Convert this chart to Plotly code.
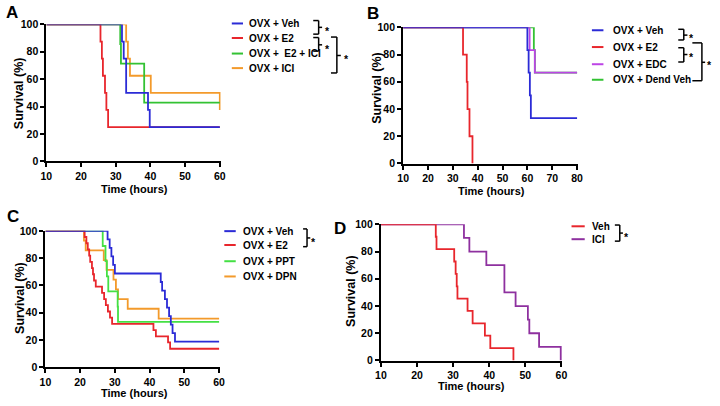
import plotly.graph_objects as go

W, H = 720, 406

# ---------------- data (event times in hours, survival in %) ----------------
# Panel A
A_veh_t = [31.8, 32.3, 33.0, 39.3, 39.8]
A_veh_s = [87.5, 75.0, 50.0, 37.5, 25.0]
A_e2_t = [25.6, 26.0, 26.3, 26.9, 27.3, 27.8]
A_e2_s = [87.5, 75.0, 62.5, 50.0, 37.5, 25.0]
A_e2ici_t = [31.3, 31.5, 38.2]
A_e2ici_s = [85.7, 71.4, 42.9]
A_ici_t = [33.0, 33.5, 34.1, 40.1, 60.0]
A_ici_s = [87.5, 75.0, 62.5, 50.0, 37.5]

# Panel B
B_veh_t = [60.0, 60.5, 61.0, 61.4]
B_veh_s = [83.3, 66.7, 50.0, 33.3]
B_e2_t = [34.1, 35.6, 35.9, 36.7, 37.9]
B_e2_s = [80.0, 60.0, 40.0, 20.0, 0.0]
B_edc_t = [60.9, 63.0]
B_edc_s = [83.3, 66.7]
B_dend_t = [62.6, 63.0]
B_dend_s = [83.3, 66.7]

# Panel C
C_veh_t = [27.9, 28.5, 29.0, 29.5, 30.0, 43.2, 43.6, 44.4, 45.0, 45.6, 46.1, 46.6, 47.3]
C_veh_s = [93.75, 87.5, 81.25, 75.0, 68.75, 62.5, 56.25, 50.0, 43.75, 37.5, 31.25, 25.0, 18.75]
C_e2_t = [21.3, 21.8, 22.2, 22.6, 22.9, 23.4, 23.7, 24.0, 24.5, 26.3, 26.9, 27.4, 28.0,
          28.6, 29.2, 41.1, 41.8, 45.3, 45.9]
C_e2_s = [95.5, 90.9, 86.4, 81.8, 77.3, 72.7, 68.2, 63.6, 59.1, 54.5, 50.0, 45.5, 40.9,
          36.4, 31.8, 27.3, 22.7, 18.2, 13.6]
C_ppt_t = [26.5, 27.3, 27.7, 28.1, 30.8, 30.9]
C_ppt_s = [88.9, 77.8, 66.7, 55.6, 44.4, 33.3]
C_dpn_t = [21.1, 21.6, 26.8, 27.6, 29.6, 30.3, 30.9, 33.7, 42.6]
C_dpn_s = [92.9, 85.7, 78.6, 71.4, 64.3, 57.1, 50.0, 42.9, 35.7]

# Panel D
D_veh_t = [25.2, 25.4, 30.3, 30.7, 31.0, 31.2, 34.0, 35.4, 38.8, 40.3, 46.7]
D_veh_s = [90.9, 81.8, 72.7, 63.6, 54.5, 45.5, 36.4, 27.3, 18.2, 9.1, 0.0]
D_ici_t = [33.0, 34.5, 39.2, 44.2, 47.3, 50.7, 51.1, 53.8, 59.8]
D_ici_s = [90.0, 80.0, 70.0, 50.0, 40.0, 30.0, 20.0, 10.0, 0.0]

y_ticks = [0, 20, 40, 60, 80, 100]
x_ticks_60 = [10, 20, 30, 40, 50, 60]
x_ticks_80 = [10, 20, 30, 40, 50, 60, 70, 80]

BLUE = "#2b2bd6"
RED = "#e8262c"
GREEN = "#33c233"
GREEN_C = "#44e044"
ORANGE = "#f39a2b"
PURPLE_B = "#bd45e6"
PURPLE_D = "#8e309f"

FONT = "Liberation Sans"


def px(x):
    return x / W


def py(y):
    return 1 - y / H


fig = go.Figure()


def km(t, s, end, color, xa, ya, name):
    xs = [10] + list(t)
    ys = [100] + list(s)
    if end is not None and xs[-1] < end:
        xs.append(end)
        ys.append(ys[-1])
    fig.add_trace(go.Scatter(x=xs, y=ys, mode="lines", line=dict(color=color, width=1.8, shape="hv"),
                             xaxis=xa, yaxis=ya, name=name, showlegend=False, hoverinfo="skip"))


# Panel A (drawn so blue on top)
km(A_ici_t, A_ici_s, 60, ORANGE, "x", "y", "OVX + ICI")
km(A_e2ici_t, A_e2ici_s, 60, GREEN, "x", "y", "OVX + E2 + ICI")
km(A_e2_t, A_e2_s, 60, RED, "x", "y", "OVX + E2")
km(A_veh_t, A_veh_s, 60, BLUE, "x", "y", "OVX + Veh")
# Panel B
km(B_dend_t, B_dend_s, 80, GREEN, "x2", "y2", "OVX + Dend Veh")
km(B_edc_t, B_edc_s, 80, PURPLE_B, "x2", "y2", "OVX + EDC")
km(B_e2_t, B_e2_s, None, RED, "x2", "y2", "OVX + E2")
km(B_veh_t, B_veh_s, 80, BLUE, "x2", "y2", "OVX + Veh")
# Panel C
km(C_dpn_t, C_dpn_s, 60, ORANGE, "x3", "y3", "OVX + DPN")
km(C_ppt_t, C_ppt_s, 60, GREEN_C, "x3", "y3", "OVX + PPT")
km(C_e2_t, C_e2_s, 60, RED, "x3", "y3", "OVX + E2")
km(C_veh_t, C_veh_s, 60, BLUE, "x3", "y3", "OVX + Veh")
# Panel D
km(D_ici_t, D_ici_s, None, PURPLE_D, "x4", "y4", "ICI")
km(D_veh_t, D_veh_s, None, RED, "x4", "y4", "Veh")

tickfont = dict(family=FONT, size=10.5, color="black", weight="bold")


def xax(domain, anchor, rng, ticks):
    return dict(domain=domain, anchor=anchor, range=rng, tickvals=ticks, showline=True,
                linecolor="black", linewidth=2, ticks="outside", ticklen=4, tickwidth=1.5,
                tickcolor="black", showgrid=False, zeroline=False, tickfont=tickfont, fixedrange=True)


def yax(domain, anchor):
    return dict(domain=domain, anchor=anchor, range=[0, 100], tickvals=y_ticks, showline=True,
                linecolor="black", linewidth=2, ticks="outside", ticklen=4, tickwidth=1.5,
                tickcolor="black", showgrid=False, zeroline=False, tickfont=tickfont, fixedrange=True)


fig.update_layout(
    width=W, height=H, autosize=False, margin=dict(l=0, r=0, t=0, b=0),
    paper_bgcolor="white", plot_bgcolor="white",
    xaxis=xax([px(41), px(218)], "y", [10, 60.25], x_ticks_60),
    yaxis=yax([py(160), py(19)], "x"),
    xaxis2=xax([px(403.3), px(580.7)], "y2", [10, 80.3], x_ticks_80),
    yaxis2=yax([py(162.3), py(22)], "x2"),
    xaxis3=xax([px(40), px(217.3)], "y3", [10, 60.25], x_ticks_60),
    yaxis3=yax([py(372.3), py(231.7)], "x3"),
    xaxis4=xax([px(380.7), px(565)], "y4", [10, 60.25], x_ticks_60),
    yaxis4=yax([py(365.3), py(225)], "x4"),
)

shapes = []
annotations = []


def text(x, y, s, size=10.5, angle=0, xanchor="center"):
    annotations.append(dict(x=px(x), y=py(y), xref="paper", yref="paper", text=s, showarrow=False,
                            xanchor=xanchor, yanchor="middle", textangle=angle, borderpad=0,
                            font=dict(family=FONT, size=size, color="black", weight="bold")))


def seg(x0, y0, x1, y1, color="black", width=1.5):
    shapes.append(dict(type="line", xref="paper", yref="paper", x0=px(x0), y0=py(y0),
                       x1=px(x1), y1=py(y1), line=dict(color=color, width=width)))


def legend(x0, x1, xt, rows, labels, colors):
    for y, lab, c in zip(rows, labels, colors):
        seg(x0, y, x1, y, c, 2)
        text(xt, y, lab, 10, xanchor="left")


def bracket(xl, xr, y0, y1, ytick, xtick, xs, ys):
    seg(xl, y0, xr, y0)
    seg(xr, y0, xr, y1)
    seg(xl, y1, xr, y1)
    seg(xr, ytick, xtick, ytick)
    text(xs, ys + 3, "*", 10.5)


# Legends
legend(229.3, 240.7, 245.5, [18, 33, 49, 64],
       ["OVX + Veh", "OVX + E2", "OVX + \u00a0E2 + ICI", "OVX + ICI"], [BLUE, RED, GREEN, ORANGE])
bracket(312, 317.5, 15, 29, 22, 321, 326, 23)
bracket(312, 317.5, 32.5, 46.5, 40, 321, 326, 41.5)
bracket(330, 336, 32, 69, 51, 340, 346, 52)

legend(595, 606.7, 615, [25, 42.3, 60, 76],
       ["OVX + Veh", "OVX + E2", "OVX + EDC", "OVX + Dend Veh"], [BLUE, RED, PURPLE_B, GREEN])
bracket(682.7, 688.3, 24, 35, 30, 692, 696, 30)
bracket(682.7, 688.3, 43, 57.7, 50, 692, 696, 50)
bracket(697, 706.7, 38, 77, 58, 710, 714, 58)

legend(221.7, 233.3, 240, [232, 246.3, 263, 278.7],
       ["OVX + Veh", "OVX + E2", "OVX + PPT", "OVX + DPN"], [BLUE, RED, GREEN_C, ORANGE])
bracket(301.7, 305.7, 229.7, 248, 239, 309, 312.3, 239.7)

legend(574.3, 587.7, 594.5, [227, 240.3], ["Veh", "ICI"], [RED, PURPLE_D])
bracket(618.3, 623.3, 225.7, 242.3, 234, 626.5, 630, 234.7)

# Axis titles
for (xc, yc) in [(14, 90), (376, 84), (14, 301), (351, 294)]:
    text(xc, yc, "Survival (%)", 12.5, angle=-90)
for (xc, yc) in [(130, 188.5), (493, 190.5), (130, 398.5), (473, 392)]:
    text(xc, yc, "Time (hours)", 11)

# Panel letters
for (xc, yc, s) in [(6, 7, "A"), (372.5, 8, "B"), (7, 217, "C"), (339, 229.5, "D")]:
    text(xc, yc, s, 17)

fig.update_layout(shapes=shapes, annotations=annotations)
fig.write_html("out.html", config={"displayModeBar": False},
               post_script="document.body.style.margin='0px';document.body.style.padding='0px';")
